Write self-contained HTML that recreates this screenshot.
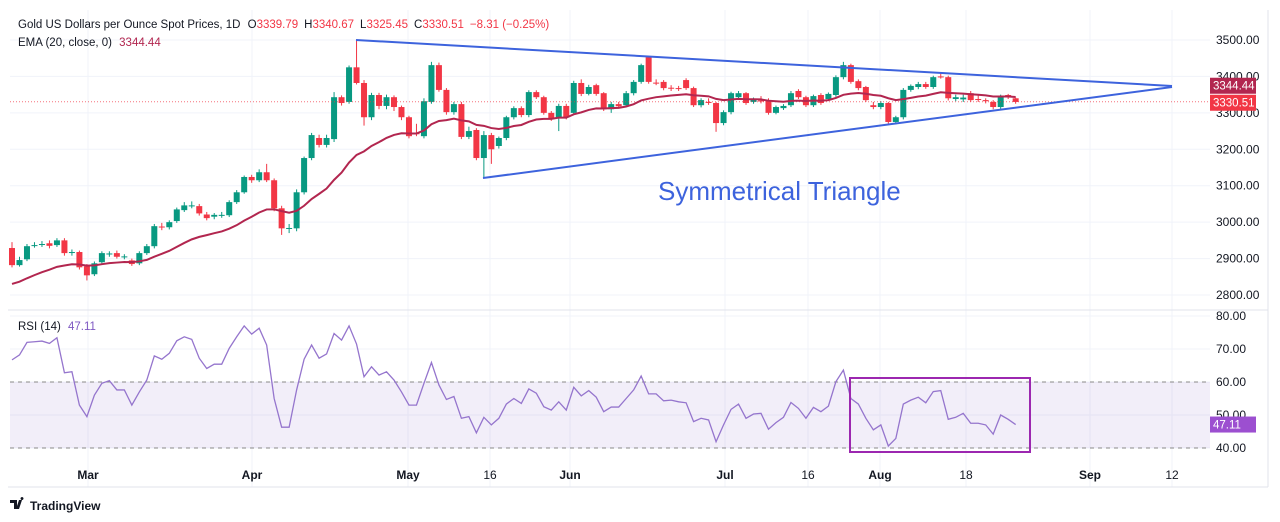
<!DOCTYPE html>
<html><head><meta charset="utf-8">
<style>
body{margin:0;background:#fff;font-family:"Liberation Sans",sans-serif;}
svg{display:block}
</style></head><body>
<svg id="c" width="1280" height="522" xmlns="http://www.w3.org/2000/svg">
<rect width="1280" height="522" fill="#fff"/>
<g id="grid"></g>
<rect x="10" y="382" width="1200" height="66" fill="#7e57c2" fill-opacity="0.1"/>
<line x1="10" y1="382" x2="1210" y2="382" stroke="#888" stroke-dasharray="4,4" stroke-width="1"/>
<line x1="10" y1="448" x2="1210" y2="448" stroke="#888" stroke-dasharray="4,4" stroke-width="1"/>
<g id="candles"></g>
<g id="lines"></g>
<g id="axis"></g>
<line x1="8" y1="310" x2="1268" y2="310" stroke="#e0e3eb"/>
<line x1="8" y1="487" x2="1268" y2="487" stroke="#e0e3eb"/>
<line x1="1268" y1="10" x2="1268" y2="487" stroke="#e0e3eb"/>
<text x="18" y="28" font-size="11.5" fill="#131722">Gold US Dollars per Ounce Spot Prices, 1D <tspan fill="#131722" dx="4">O</tspan><tspan fill="#f23645">3339.79</tspan><tspan dx="6">H</tspan><tspan fill="#f23645">3340.67</tspan><tspan dx="6">L</tspan><tspan fill="#f23645">3325.45</tspan><tspan dx="6">C</tspan><tspan fill="#f23645">3330.51</tspan><tspan dx="6" fill="#f23645">−8.31 (−0.25%)</tspan></text>
<text x="18" y="46" font-size="11.5" fill="#131722">EMA (20, close, 0) <tspan fill="#b2264f" dx="4">3344.44</tspan></text>
<text x="18" y="330" font-size="11.5" fill="#131722">RSI (14) <tspan fill="#7e57c2" dx="4">47.11</tspan></text>
<text x="658" y="200" font-size="26" fill="#3d63dd">Symmetrical Triangle</text>
<rect x="850" y="378" width="180" height="74" fill="none" stroke="#9c27b0" stroke-width="2"/>
<g>
<path d="M10 500 h7 v9 h-3 v-6 h-4z M19 500 h3 l-3 9 h-3z M22 500 a1.5 1.5 0 1 1 0.01 0" fill="#131722"/>
<text x="30" y="510" font-size="12" font-weight="bold" fill="#131722">TradingView</text>
</g>
</svg>
<script>
const opens=[2929,2882,2898,2935,2938,2942,2937,2950,2916,2918,2879,2857,2890,2912,2915,2905,2895,2887,2915,2934,2988,2986,3003,3033,3045,3044,3021,3015,3019,3019,3055,3082,3124,3115,3137,3115,3038,2983,2983,3082,3176,3231,3212,3228,3343,3330,3425,3382,3288,3349,3319,3343,3316,3288,3244,3236,3330,3431,3363,3302,3324,3234,3253,3176,3239,3209,3231,3288,3313,3294,3357,3343,3300,3286,3319,3300,3382,3352,3376,3354,3310,3324,3321,3354,3385,3453,3383,3385,3369,3368,3390,3368,3321,3330,3327,3272,3302,3343,3354,3330,3334,3335,3300,3313,3321,3360,3343,3321,3349,3338,3349,3398,3431,3387,3371,3321,3316,3327,3275,3288,3363,3371,3379,3371,3400,3398,3338,3337,3354,3338,3335,3330,3316,3349,3340];
const closes=[2882,2896,2934,2937,2940,2935,2950,2915,2918,2876,2854,2887,2915,2914,2905,2906,2885,2915,2934,2989,2986,3000,3035,3046,3046,3024,3011,3020,3020,3055,3082,3124,3115,3137,3115,3038,2983,2984,3082,3176,3239,3212,3231,3343,3327,3425,3382,3288,3349,3319,3343,3316,3288,3236,3243,3332,3431,3363,3302,3324,3234,3250,3176,3239,3200,3231,3288,3313,3294,3357,3343,3300,3283,3319,3288,3382,3352,3371,3352,3310,3324,3318,3354,3385,3431,3385,3382,3368,3368,3367,3368,3321,3335,3329,3272,3302,3354,3354,3327,3338,3333,3300,3316,3319,3354,3343,3321,3346,3327,3352,3398,3431,3385,3368,3335,3316,3327,3275,3288,3363,3374,3379,3371,3398,3398,3340,3343,3342,3335,3337,3332,3316,3346,3343,3330];
const highs=[2945,2905,2940,2945,2948,2950,2956,2956,2925,2922,2885,2892,2920,2920,2922,2912,2900,2920,2940,2995,2998,3005,3040,3055,3057,3050,3028,3025,3028,3060,3088,3128,3130,3145,3160,3120,3045,2995,3090,3180,3245,3240,3240,3357,3348,3430,3500,3390,3355,3355,3350,3348,3320,3292,3270,3340,3440,3438,3368,3330,3330,3262,3258,3250,3245,3235,3292,3318,3318,3362,3362,3347,3305,3325,3325,3388,3392,3377,3380,3357,3330,3330,3360,3390,3435,3455,3392,3390,3376,3374,3395,3372,3340,3340,3330,3307,3358,3360,3357,3342,3346,3340,3320,3324,3360,3365,3347,3350,3354,3356,3403,3440,3435,3392,3374,3330,3332,3330,3292,3368,3378,3385,3385,3402,3410,3402,3350,3350,3360,3350,3340,3335,3350,3352,3342];
const lows=[2876,2878,2893,2930,2932,2928,2932,2908,2908,2870,2840,2852,2884,2905,2900,2898,2880,2882,2910,2928,2978,2980,2998,3028,3038,3018,3005,3008,3012,3014,3050,3078,3108,3110,3110,3030,2965,2970,2975,3076,3170,3205,3205,3220,3320,3325,3378,3265,3280,3310,3310,3305,3280,3230,3236,3230,3325,3358,3295,3295,3228,3228,3170,3120,3160,3202,3225,3282,3288,3288,3338,3295,3278,3250,3282,3295,3346,3348,3347,3305,3300,3312,3316,3348,3380,3380,3376,3362,3360,3360,3363,3316,3315,3322,3248,3266,3296,3336,3322,3325,3326,3295,3296,3308,3316,3338,3316,3316,3322,3333,3344,3392,3380,3362,3330,3310,3310,3268,3268,3282,3358,3365,3366,3366,3394,3334,3332,3330,3330,3330,3326,3310,3310,3338,3325];
const rsiValues=[66.7,68.2,72,72.2,72.4,71.7,73.4,62.8,63.1,53,49.5,56,59.6,60.4,57.6,57.6,53,57,60.6,67.9,66.9,68.7,72.5,73.7,72.9,67.2,64.1,65.4,65.4,70.2,73.7,77,74.5,76.3,71.2,55,46.3,46.3,57.6,66.9,71.2,67.2,68.5,74.7,72.7,77,71.5,61.6,64.6,62.1,63.1,60.6,57,53,53,59.6,65.9,59.1,54.7,55.6,49,49.5,44.6,49.3,47,49,53.3,55,53.5,57.9,56.6,52.5,51.5,54,51.5,58.4,55.8,57.4,55.4,51,52.4,52.4,55,57.6,61.8,56.4,56.4,54.3,54.5,54,53.7,48,49,48.5,41.9,47,51.7,53.3,49,50.3,50.5,45.7,47.7,49.3,53.8,52,49,52.3,51,52.7,60.1,63.6,55,53.3,49,45.5,47,40.6,42.9,53.3,54.5,55.4,53.7,57.1,57.4,48.7,49.3,50.5,47.5,47.5,47,44.2,50,48.7,47.1];
const priceTicks=[3500,3400,3300,3200,3100,3000,2900,2800];
const rsiTicks=[80,70,60,50,40];
const timeLabels=["Mar","Apr","May","16","Jun","Jul","16","Aug","18","Sep","12"];
const timeLabelX=[88,252,408,490,570,725,808,880,966,1090,1172];
const emaSeed=2825;
const lastClose=3330.51, lastEma=3344.44, lastRsi=47.11;

const NS="http://www.w3.org/2000/svg";
const py=p=>40+(3500-p)*0.3643;
const ry=v=>316+(80-v)*3.3;
const xi=i=>12+i*7.49;
function mk(tag,attrs,parent){const e=document.createElementNS(NS,tag);for(const k in attrs)e.setAttribute(k,attrs[k]);parent.appendChild(e);return e;}
const grid=document.getElementById('grid'),cg=document.getElementById('candles'),lg=document.getElementById('lines'),ax=document.getElementById('axis');

priceTicks.forEach(t=>{
  const g=mk('line',{x1:10,x2:1210,y1:py(t),y2:py(t),stroke:'#f0f3fa'},grid);
  
  
  const tx=mk('text',{x:1216,y:py(t)+4,'font-size':12,fill:'#131722'},ax);
  tx.textContent=t.toFixed(2);
  
  
});
rsiTicks.forEach(t=>{
  const g=mk('line',{x1:10,x2:1210,y1:ry(t),y2:ry(t),stroke:'#f0f3fa'},grid);
  
  
  const tx=mk('text',{x:1216,y:ry(t)+4,'font-size':12,fill:'#131722'},ax);
  tx.textContent=t.toFixed(2);
  
  
});
timeLabels.forEach((l,i)=>{
  const x=timeLabelX[i];
  const g=mk('line',{x1:x,x2:x,y1:10,y2:487,stroke:'#f0f3fa'},grid);
  
  
  const bold=isNaN(+l);
  const tx=mk('text',{x:x,y:479,'font-size':12,fill:'#131722','text-anchor':'middle','font-weight':bold?'bold':'normal'},ax);
  tx.textContent=l;
  
  
});

const dl=mk('line',{x1:10,x2:1210,y1:py(lastClose),y2:py(lastClose),stroke:'#f23645','stroke-dasharray':'1,2','stroke-width':1,opacity:0.7},lg);



opens.forEach((o,i)=>{
  const c=closes[i],x=xi(i),up=c>=o,col=up?'#089981':'#f23645';
  const w=mk('line',{x1:x,x2:x,y1:py(highs[i]),y2:py(lows[i]),stroke:col,'stroke-width':1},cg);
  
  
  const top=py(Math.max(o,c)),h=Math.max(1,py(Math.min(o,c))-top);
  const b=mk('rect',{x:x-3,y:top,width:6,height:h,fill:col},cg);
  
  
});

let e=emaSeed;const a=2/21;let pts=[];
closes.forEach((c,i)=>{e=e+a*(c-e);pts.push(xi(i)+','+py(e));});
const ema=mk('polyline',{points:pts.join(' '),fill:'none',stroke:'#b2264f','stroke-width':2},lg);



const rp=rsiValues.map((v,i)=>xi(i)+','+ry(v)).join(' ');
const rl=mk('polyline',{points:rp,fill:'none',stroke:'#9575cd','stroke-width':1.3},lg);



const t1=mk('line',{x1:356,y1:40,x2:1172,y2:86,stroke:'#3d63dd','stroke-width':2},lg);


const t2=mk('line',{x1:483,y1:178,x2:1172,y2:87,stroke:'#3d63dd','stroke-width':2},lg);



function tag(y,txt,bg,name){
  const r=mk('rect',{x:1210,y:y-8,width:46,height:16,fill:bg},ax);
  
  
  const t=mk('text',{x:1213,y:y+4,'font-size':11.5,fill:'#fff'},ax);
  t.textContent=txt;
  
  
}
const priceTagY=py(lastClose)+1;
tag(priceTagY-17,lastEma.toFixed(2),'#b2264f','ema-price-tag');
tag(priceTagY,lastClose.toFixed(2),'#f23645','last-price-tag');
tag(ry(lastRsi),lastRsi.toFixed(2),'#9c4fd0','rsi-value-tag');
</script>
</body></html>
